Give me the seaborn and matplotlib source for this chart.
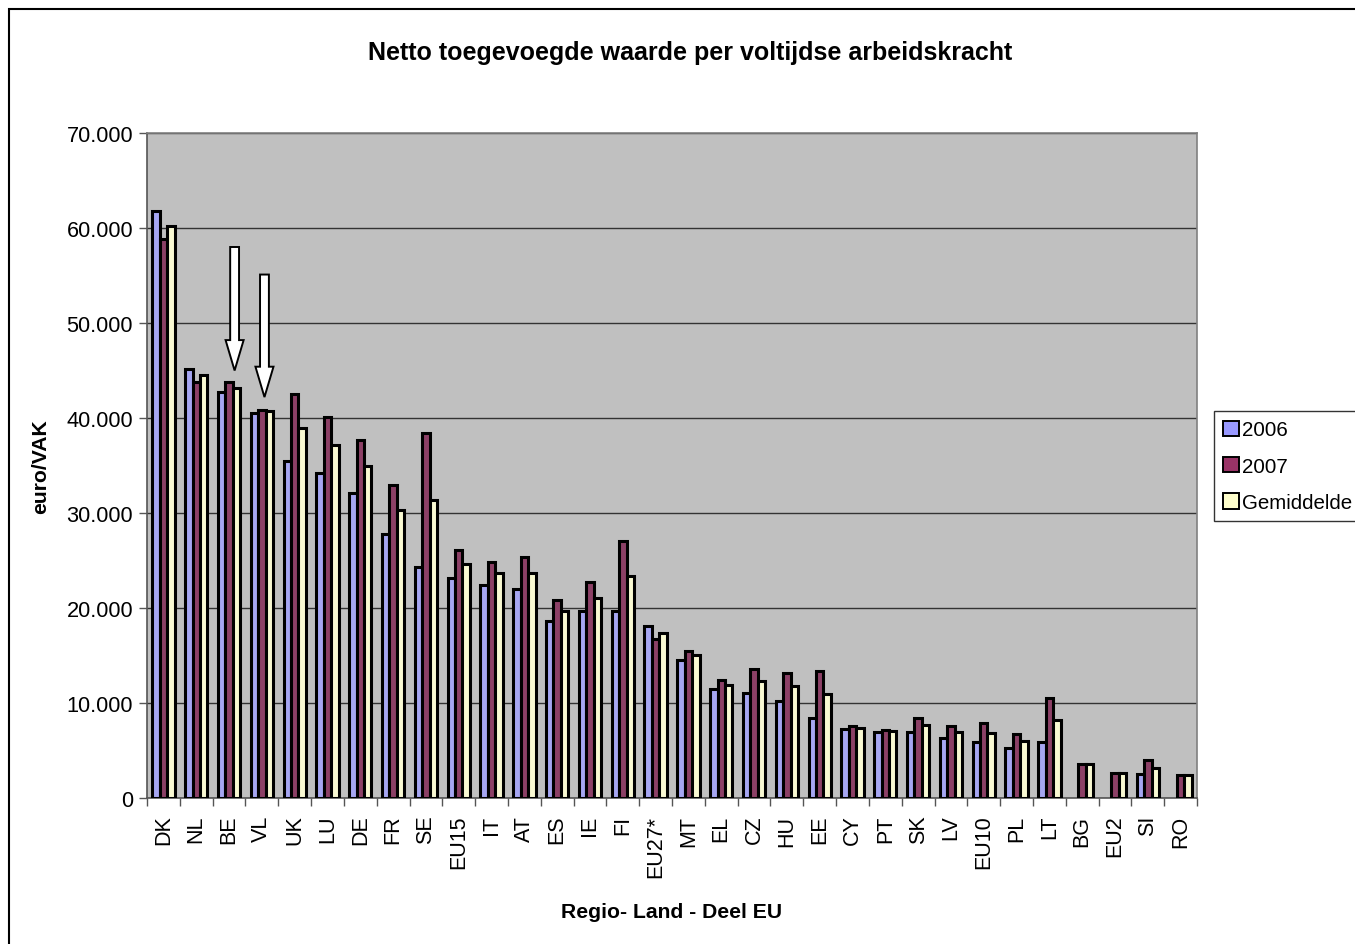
import numpy as np
import pandas as pd
import matplotlib
matplotlib.use("Agg")
import matplotlib.pyplot as plt
from matplotlib.patches import FancyArrow, Rectangle
from matplotlib.ticker import FuncFormatter, FixedLocator
import seaborn as sns

# data (euro per VAK)
regio = ["DK", "NL", "BE", "VL", "UK", "LU", "DE", "FR", "SE", "EU15", "IT", "AT",
         "ES", "IE", "FI", "EU27*", "MT", "EL", "CZ", "HU", "EE", "CY", "PT", "SK",
         "LV", "EU10", "PL", "LT", "BG", "EU2", "SI", "RO"]
w2006 = [61800, 45200, 42700, 40500, 35500, 34200, 32100, 27800, 24350, 23200, 22450, 22000,
         18600, 19650, 19700, 18100, 14500, 11500, 11100, 10200, 8400, 7230, 7000, 6950,
         6280, 5930, 5300, 5930, np.nan, np.nan, 2500, np.nan]
w2007 = [58800, 43800, 43800, 40850, 42500, 40100, 37700, 33000, 38400, 26100, 24800, 25400,
         20800, 22700, 27100, 16700, 15500, 12400, 13600, 13200, 13400, 7550, 7160, 8420,
         7580, 7890, 6700, 10490, 3600, 2600, 3960, 2400]
gemiddelde = [60250, 44500, 43200, 40700, 39000, 37200, 34900, 30350, 31400, 24600, 23650, 23700,
              19700, 21100, 23400, 17400, 15100, 11900, 12300, 11800, 10900, 7400, 7090, 7650,
              6910, 6880, 6000, 8210, 3600, 2600, 3190, 2400]
reeksen = ["2006", "2007", "Gemiddelde"]
kleuren = ["#9999FF", "#993366", "#FFFFCC"]

df = pd.DataFrame({
    "regio": regio * 3,
    "reeks": [r for r in reeksen for _ in regio],
    "waarde": w2006 + w2007 + gemiddelde,
})

sns.set_style("white")
plt.rcParams["font.family"] = ["Liberation Sans", "DejaVu Sans"]
plt.rcParams.update({"text.color": "black", "axes.labelcolor": "black",
                     "xtick.color": "black", "ytick.color": "black"})

fig = plt.figure(figsize=(13.55, 9.45), dpi=100)
ax = fig.add_axes([147 / 1355, 1 - 799 / 945, 1050 / 1355, 665 / 945])
ax.set_facecolor("#C0C0C0")

sns.barplot(data=df, x="regio", y="waarde", hue="reeks", order=regio, hue_order=reeksen,
            palette=kleuren, edgecolor="black", linewidth=2.2, width=0.68,
            errorbar=None, ax=ax, zorder=3)

ax.set_xlim(-0.5, len(regio) - 0.5)
ax.set_ylim(0, 70000)
ax.set_yticks(np.arange(0, 70001, 10000))
ax.yaxis.set_major_formatter(FuncFormatter(lambda v, p: f"{int(v):,}".replace(",", ".")))
ax.grid(axis="y", color="#333333", linewidth=1.0, zorder=0)
ax.grid(axis="x", visible=False)
ax.set_axisbelow(True)

# category ticks between groups, like the spreadsheet chart
ax.xaxis.set_minor_locator(FixedLocator(np.arange(-0.5, len(regio), 1.0)))
ax.tick_params(axis="x", which="major", length=0, pad=12, labelsize=15.5, labelrotation=90)
ax.tick_params(axis="x", which="minor", length=6, width=1, color="#555555", bottom=True)
ax.tick_params(axis="y", length=6, width=1, color="#555555", left=True, labelsize=15.7, pad=4)
for lab in ax.get_xticklabels():
    lab.set_verticalalignment("top")

for side in ["top", "right"]:
    ax.spines[side].set_color("#808080")
for side in ["left", "bottom"]:
    ax.spines[side].set_color("#555555")
for s in ax.spines.values():
    s.set_linewidth(1.2)

ax.set_xlabel("Regio- Land - Deel EU", fontsize=15.2, fontweight="bold", labelpad=18)
ax.set_ylabel("euro/VAK", fontsize=15.2, fontweight="bold", labelpad=12)
fig.text(690 / 1355, 1 - 53 / 945, "Netto toegevoegde waarde per voltijdse arbeidskracht",
         ha="center", va="center", fontsize=18, fontweight="bold")

# white arrows pointing at BE and VL
for naam, dx, top, tip in [("BE", 0.17, 58000, 45000), ("VL", 0.08, 55100, 42200)]:
    i = regio.index(naam)
    ax.add_patch(FancyArrow(i + dx, top, 0, tip - top, width=0.27, head_width=0.55,
                            head_length=3200, length_includes_head=True,
                            facecolor="white", edgecolor="black", linewidth=1.4, zorder=5))

ax.legend_.remove()
handles = [Rectangle((0, 0), 1, 1, facecolor=c, edgecolor="black", linewidth=1.4) for c in kleuren]
leg = fig.legend(handles, reeksen, loc="upper left", bbox_to_anchor=(1214 / 1355, 1 - 412 / 945),
                 frameon=True, fancybox=False, edgecolor="black", fontsize=14.8, borderaxespad=0,
                 handlelength=0.75, handleheight=0.75, handletextpad=0.15, labelspacing=0.85,
                 borderpad=0.45)
leg.get_frame().set_linewidth(1.0)

# outer chart border
fig.add_artist(Rectangle((9 / 1355, -0.05), 1.1, 1 - 10 / 945 + 0.05, transform=fig.transFigure,
                         fill=False, edgecolor="black", linewidth=1.5))

fig.savefig("out.png", dpi=100)
